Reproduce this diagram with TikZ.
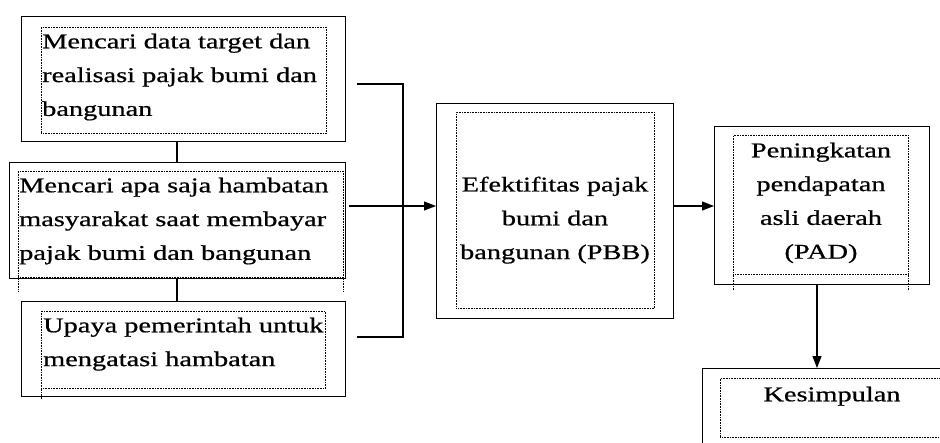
\documentclass[tikz,border=0pt]{standalone}
\usepackage{fontspec}
\setmainfont{Liberation Serif}[FakeStretch=1.35, FakeBold=0.7]
\usepackage{tikz}
\usetikzlibrary{arrows.meta,positioning}

\begin{document}
\begin{tikzpicture} [
        x=1pt, y=-1pt,
        outer/.style={draw=black, line width=1.2pt, rectangle, inner sep=0pt, anchor=north west},
        frame/.style={draw=black, line width=0.8pt, dash pattern=on 0.8pt off 0.8pt, rectangle, inner sep=0pt, anchor=north west},
        txt/.style={inner sep=0pt, font=\fontsize{21}{33.8}\selectfont},
        link/.style={line width=1.2pt},
        >={Triangle[length=12pt, width=9pt]}
    ]
    \clip (0,0) rectangle (940,442);

    % outer boxes
    \node[outer, minimum width=324, minimum height=125]  (target)   at (21,16)   {};
    \node[outer, minimum width=336, minimum height=116]  (hambatan) at (9,162)   {};
    \node[outer, minimum width=324, minimum height=95]   (upaya)    at (21,301)  {};
    \node[outer, minimum width=237, minimum height=215]  (pbb)      at (436,103) {};
    \node[outer, minimum width=215, minimum height=158]  (pad)      at (714,126) {};
    \node[outer, minimum width=260, minimum height=110]  (kes)      at (702,368) {};

    % dotted text frames
    \node[frame, minimum width=285, minimum height=106]  (targetf)   at (41,27)   {};
    \node[frame, minimum width=325, minimum height=106]  (hambatanf) at (18,171)  {};
    \node[frame, minimum width=284, minimum height=77]   (upayaf)    at (41,311)  {};
    \node[frame, minimum width=198, minimum height=196]  (pbbf)      at (456,112) {};
    \node[frame, minimum width=175, minimum height=139]  (padf)      at (733,135) {};
    \node[frame, minimum width=240, minimum height=59]   (kesf)      at (720,378) {};
    \draw[frame] (hambatanf.south west) -- ++(0,13);
    \draw[frame] (hambatanf.south east) -- ++(0,13);
    \draw[frame] (upayaf.south west) -- ++(0,10);
    \draw[frame] (padf.south west) -- ++(0,15);
    \draw[frame] (padf.south east) -- ++(0,15);

    % texts
    \node[txt, anchor=north west, align=left]  (targett)   at (42,33.5)   {Mencari data target dan\\realisasi pajak bumi dan\\bangunan};
    \node[txt, anchor=north west, align=left]  (hambatant) at (19,177.5)  {Mencari apa saja hambatan\\masyarakat saat membayar\\pajak bumi dan bangunan};
    \node[txt, anchor=north west, align=left]  (upayat)    at (43,317.5)  {Upaya pemerintah untuk\\mengatasi hambatan};
    \node[txt, anchor=north, align=center]     (pbbt)      at (555,176.5) {Efektifitas pajak\\bumi dan\\bangunan (PBB)};
    \node[txt, anchor=north, align=center]     (padt)      at (821,142.5) {Peningkatan\\pendapatan\\asli daerah\\(PAD)};
    \node[txt, anchor=north, align=center]     (kest)      at (832,386.5) {Kesimpulan};

    % connectors
    \coordinate (brtop) at (357,84);
    \coordinate (brbot) at (357,337);
    \coordinate (brmid) at (349,206);
    \draw[link] (target.south -| 177,0) -- (hambatan.north -| 177,0);
    \draw[link] (hambatan.south -| 177,0) -- (upaya.north -| 177,0);
    \draw[link] (brtop) -| (403,0 |- brbot) -- (brbot);
    \draw[link, ->] (brmid) -- (brmid -| pbb.west);
    \draw[link, ->] (brmid -| pbb.east) -- (brmid -| pad.west);
    \draw[link, ->] (pad.south -| 817,0) -- (kes.north -| 817,0);
\end{tikzpicture}
\end{document}
